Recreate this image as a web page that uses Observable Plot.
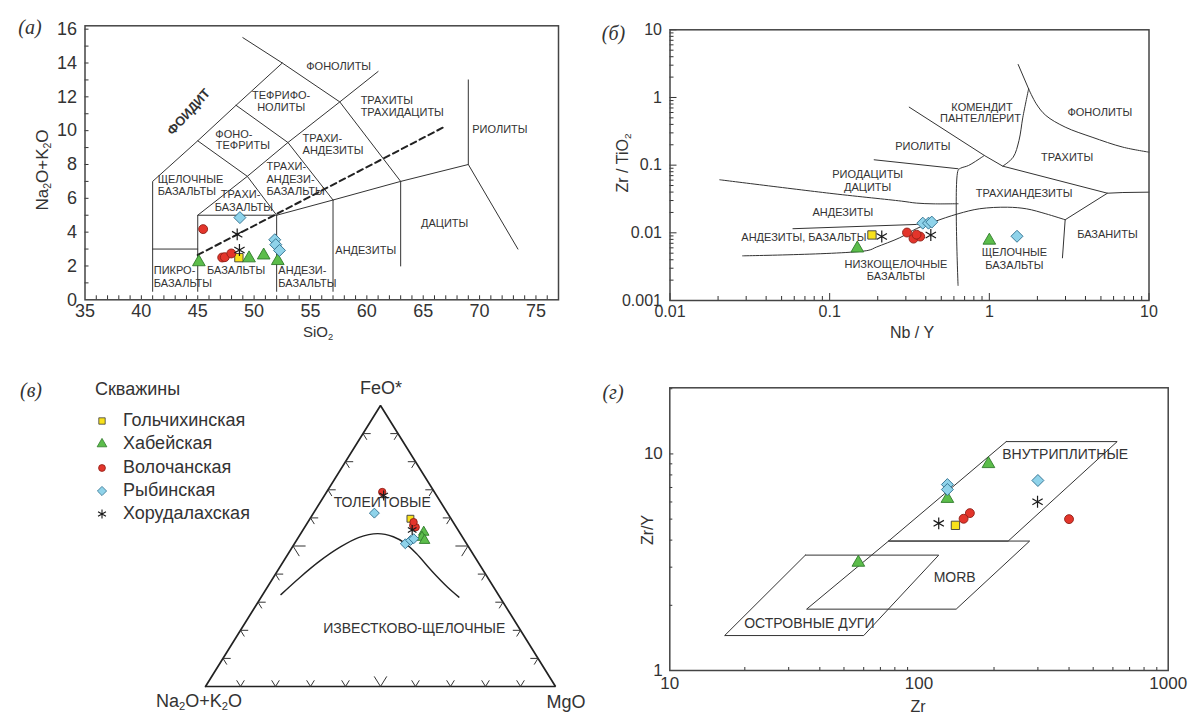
<!DOCTYPE html>
<html><head><meta charset="utf-8">
<script src="https://cdn.jsdelivr.net/npm/d3@7"></script>
<script src="https://cdn.jsdelivr.net/npm/@observablehq/plot@0.6"></script>
<style>
body{margin:0;background:#fff;font-family:"Liberation Sans",Arial,sans-serif;}
#root{position:relative;width:1200px;height:727px;overflow:hidden;background:#fff;}
.panel{position:absolute;}
.lbl{position:absolute;color:#333;white-space:nowrap;transform:translate(-50%,-50%);line-height:1;}
.lbl sub{font-size:0.62em;vertical-align:-0.25em;}
.rot{transform:translate(-50%,-50%) rotate(-90deg);}
.pl{position:absolute;font-family:"Liberation Serif","DejaVu Serif",serif;font-style:italic;font-size:20px;color:#333;transform:translate(-50%,-50%);line-height:1;}
.leg{position:absolute;color:#333;font-size:16px;white-space:nowrap;line-height:1;}
</style></head>
<body><div id="root"></div>
<script>
// ---------- series (wells) ----------
const wells   = ["Гольчихинская","Хабейская","Волочанская","Рыбинская","Хорудалахская"];
const symbols = ["square","triangle","circle","diamond2","asterisk"];
const fills   = ["#f8e11b","#5cbd4b","#e3352b","#8fd3ea","none"];
const strokes = ["#3b3b3b","#2f7a2a","#8e1f16","#2c6d8c","#1a1a1a"];
const sizeK   = [1.0,1.0,0.95,1.15,1.2];

// ---------- panel (а): TAS ----------
const aWell = ["Гольчихинская","Хабейская","Хабейская","Хабейская","Хабейская","Волочанская","Волочанская","Волочанская","Волочанская","Рыбинская","Рыбинская","Рыбинская","Рыбинская","Хорудалахская","Хорудалахская"];
const aSiO2 = [48.65,45.1,49.55,50.85,52.1,45.48,47.17,47.4,47.98,48.74,51.83,51.92,52.25,48.5,48.7];
const aAlk  = [2.49,2.23,2.46,2.63,2.3,4.18,2.5,2.52,2.74,4.86,3.55,3.26,2.92,3.87,2.94];
const tasLines = [
  [[41,0.5],[41,7],[45,9.4],[48.4,11.5],[52.5,14]],
  [[49,15.5],[52.5,14],[57.6,11.7],[63,7]],
  [[41,3],[45,3]],
  [[45,0.5],[45,5],[52,5],[57,5.9],[63,7],[69,8],[73.4,3]],
  [[52,0.5],[52,5]],
  [[57,0.5],[57,5.9]],
  [[63,2],[63,7]],
  [[69,8],[69,13]],
  [[45,5],[49.4,7.3],[53,9.3],[57.6,11.7],[61,13.5]],
  [[45,9.4],[49.4,7.3],[52,5]],
  [[48.4,11.5],[53,9.3],[57,5.9]]
];
const tasDash = [[45,2.65],[66.8,10.2]];
const aLabels = [
  {x:57.5,y:13.8,t:"ФОНОЛИТЫ",a:"middle"},
  {x:52.4,y:12.1,t:"ТЕФРИФО-",a:"middle"},{x:52.4,y:11.4,t:"НОЛИТЫ",a:"middle"},
  {x:59.45,y:11.8,t:"ТРАХИТЫ",a:"start"},{x:59.45,y:11.1,t:"ТРАХИДАЦИТЫ",a:"start"},
  {x:71.8,y:10.05,t:"РИОЛИТЫ",a:"middle"},
  {x:48.2,y:9.8,t:"ФОНО-",a:"middle"},{x:49.0,y:9.12,t:"ТЕФРИТЫ",a:"middle"},
  {x:54.3,y:9.55,t:"ТРАХИ-",a:"start"},{x:54.3,y:8.81,t:"АНДЕЗИТЫ",a:"start"},
  {x:51.1,y:7.86,t:"ТРАХИ-",a:"start"},{x:51.1,y:7.11,t:"АНДЕЗИ-",a:"start"},{x:51.1,y:6.39,t:"БАЗАЛЬТЫ",a:"start"},
  {x:41.45,y:7.11,t:"ЩЕЛОЧНЫЕ",a:"start"},{x:41.45,y:6.39,t:"БАЗАЛЬТЫ",a:"start"},
  {x:48.8,y:6.2,t:"ТРАХИ-",a:"middle"},{x:49.1,y:5.46,t:"БАЗАЛЬТЫ",a:"middle"},
  {x:41.1,y:1.72,t:"ПИКРО-",a:"start"},{x:41.1,y:0.97,t:"БАЗАЛЬТЫ",a:"start"},
  {x:48.4,y:1.72,t:"БАЗАЛЬТЫ",a:"middle"},
  {x:52.15,y:1.72,t:"АНДЕЗИ-",a:"start"},{x:52.15,y:0.97,t:"БАЗАЛЬТЫ",a:"start"},
  {x:59.9,y:2.92,t:"АНДЕЗИТЫ",a:"middle"},
  {x:66.9,y:4.52,t:"ДАЦИТЫ",a:"middle"}
];
const aXTicks = [35,40,45,50,55,60,65,70,75];
const aYTicks = [0,2,4,6,8,10,12,14,16];

// ---------- panel (б): Zr/TiO2 vs Nb/Y ----------
const bWell = ["Гольчихинская","Хабейская","Хабейская","Волочанская","Волочанская","Волочанская","Волочанская","Рыбинская","Рыбинская","Рыбинская","Рыбинская","Хорудалахская","Хорудалахская"];
const bNbY  = [0.184,0.149,1.0,0.305,0.335,0.369,0.35,0.383,0.416,0.436,1.49,0.212,0.43];
const bZrTi = [0.0093,0.0059,0.0077,0.0101,0.0082,0.0088,0.0094,0.0139,0.0139,0.0144,0.0089,0.00885,0.0093];
const bCurved = [
  [[0.0285,0.00457],[0.174,0.0055],[0.196,0.00615],[0.275,0.00847],[0.349,0.0115],[0.444,0.0144],[0.637,0.0191],[0.871,0.0227],[1.297,0.0239],[1.714,0.0226],[2.26,0.0191],[2.985,0.0156]],
  [[0.0205,0.0608],[0.105,0.0379],[0.282,0.0294],[0.349,0.0275],[0.45,0.0268],[0.637,0.0269]],
  [[0.637,0.00167],[0.637,0.0836],[0.66,0.09],[0.741,0.0989],[0.897,0.131],[0.931,0.139]],
  [[1.214,0.0966],[1.41,0.131],[1.534,0.232],[1.622,0.512],[1.762,1.34]],
  [[1.762,1.34],[1.968,0.805],[2.26,0.542],[2.985,0.365],[4.4,0.259],[6.86,0.1845],[10,0.1556]]
];
const bStraight = [
  [[0.0589,0.0115],[0.35,0.0133],[0.43,0.0142]],
  [[0.19,0.12],[0.637,0.0885]],
  [[0.315,0.719],[0.931,0.139],[1.214,0.0966],[5.49,0.0385],[6.86,0.0394],[10,0.0399]],
  [[1.516,3.07],[1.762,1.34]],
  [[2.87,0.00427],[2.985,0.0156],[5.49,0.0385]]
];
const bLabels = [
  {x:0.9,y:0.72,t:"КОМЕНДИТ",a:"middle"},{x:0.88,y:0.484,t:"ПАНТЕЛЛЕРИТ",a:"middle"},
  {x:4.92,y:0.607,t:"ФОНОЛИТЫ",a:"middle"},
  {x:0.383,y:0.191,t:"РИОЛИТЫ",a:"middle"},
  {x:3.07,y:0.128,t:"ТРАХИТЫ",a:"middle"},
  {x:0.173,y:0.0719,t:"РИОДАЦИТЫ",a:"middle"},{x:0.173,y:0.0473,t:"ДАЦИТЫ",a:"middle"},
  {x:1.65,y:0.0377,t:"ТРАХИАНДЕЗИТЫ",a:"middle"},
  {x:0.121,y:0.0198,t:"АНДЕЗИТЫ",a:"middle"},
  {x:0.17,y:0.0084,t:"АНДЕЗИТЫ, БАЗАЛЬТЫ",a:"end"},
  {x:0.26,y:0.0034,t:"НИЗКОЩЕЛОЧНЫЕ",a:"middle"},{x:0.26,y:0.00229,t:"БАЗАЛЬТЫ",a:"middle"},
  {x:1.436,y:0.00506,t:"ЩЕЛОЧНЫЕ",a:"middle"},{x:1.436,y:0.00329,t:"БАЗАЛЬТЫ",a:"middle"},
  {x:5.49,y:0.0093,t:"БАЗАНИТЫ",a:"middle"}
];
const bXTicks = [0.01,0.1,1,10];
const bYTicks = [0.001,0.01,0.1,1,10];
const minorMult = [2,3,4,5,6,7,8,9];

// ---------- panel (в): AFM ternary (FeO*, MgO in %) ----------
const cWell = ["Гольчихинская","Хабейская","Хабейская","Хабейская","Волочанская","Волочанская","Волочанская","Волочанская","Рыбинская","Рыбинская","Рыбинская","Рыбинская","Хорудалахская","Хорудалахская"];
const cFeO  = [59.7,54.9,53.1,52.0,69.2,57.3,56.7,58.5,61.7,50.8,52.0,52.6,68.0,55.7];
const cMgO  = [28.7,34.9,35.3,36.6,15.9,30.7,31.7,30.2,17.4,31.7,32.6,33.2,16.9,31.2];
const cCurveFeO = [32.7,38.9,44.6,49.4,53.0,54.4,53.3,51.0,47.3,41.1,35.4,31.8];
const cCurveMgO = [5.2,7.6,10.3,13.5,17.2,22.0,27.0,31.5,36.6,44.1,51.4,56.5];
const cTicks = [10,20,30,40,50,60,70,80,90];
const cLabels = [{f:65.6,m:17.7,t:"ТОЛЕИТОВЫЕ"},{f:20.7,m:49.3,t:"ИЗВЕСТКОВО-ЩЕЛОЧНЫЕ"}];

// ---------- panel (г): Zr/Y vs Zr ----------
const dWell = ["Гольчихинская","Хабейская","Хабейская","Хабейская","Волочанская","Волочанская","Волочанская","Рыбинская","Рыбинская","Рыбинская","Хорудалахская","Хорудалахская"];
const dZr   = [140,190,130,57.1,160,151,400,130,130,300,120,299];
const dZrY  = [4.68,8.99,6.21,3.15,5.33,5.02,5.0,7.22,6.85,7.54,4.78,6.02];
const withinPlate = [[224,11.4],[624,11.4],[228,3.96],[75.5,3.96],[224,11.4]];
const morb        = [[75.5,3.96],[278,3.96],[141,1.92],[35.4,1.92],[75.5,3.96]];
const islandArc   = [[35,3.41],[120,3.41],[60,1.45],[16.6,1.45],[35,3.41]];
const dLabels = [{x:386,y:9.93,t:"ВНУТРИПЛИТНЫЕ"},{x:139,y:2.69,t:"MORB"},{x:36.3,y:1.64,t:"ОСТРОВНЫЕ ДУГИ"}];
const dXTicks = [10,100,1000];
const dYTicks = [1,10];

// ---------- helpers ----------
const FONT = '"Liberation Sans", Arial, sans-serif';
const INK = "#333";
const root = document.getElementById("root");
function place(node, left, top){const d=document.createElement("div");d.className="panel";d.style.left=left+"px";d.style.top=top+"px";d.appendChild(node);root.appendChild(d);}
function html(cls, htmlText, x, y, size){const d=document.createElement("div");d.className=cls;d.innerHTML=htmlText;d.style.left=x+"px";d.style.top=y+"px";if(size)d.style.fontSize=size+"px";root.appendChild(d);}
function pts(ws, xs, ys){return ws.map((w,i)=>({w, x:xs[i], y:ys[i]}));}
function wellDots(data, r){
  return wells.map((s,k)=>Plot.dot(data.filter(d=>d.w===s),{x:"x",y:"y",symbol:symbols[k],fill:fills[k],stroke:strokes[k],strokeWidth:k===4?1.2:0.9,r:r*sizeK[k]}));
}
function polylines(lines){return lines.flatMap((l,i)=>l.map(p=>({x:p[0],y:p[1],id:i})));}
function minors(decades){return decades.flatMap(d=>minorMult.map(m=>+(m*d).toPrecision(3)));}
const textOpts = (size)=>({x:"x",y:"y",text:"t",fill:INK,fontSize:size,fontFamily:FONT});

// ---------- panel (а) ----------
{
  const W=600,H=345,mL=84.5,mR=42,mT=25.3,mB=45.7, fw=W-mL-mR, fh=H-mT-mB;
  const xMinor=d3.range(36,77,1), yMinor=d3.range(1,17,1);
  const p = Plot.plot({
    width:W,height:H,marginLeft:mL,marginRight:mR,marginTop:mT,marginBottom:mB,
    style:{fontFamily:FONT,color:INK,background:"transparent",overflow:"visible"},
    x:{domain:[35,77]}, y:{domain:[0,16.2]},
    marks:[
      Plot.line(polylines(tasLines),{x:"x",y:"y",z:"id",stroke:"#333",strokeWidth:1}),
      Plot.line(tasDash.map(p=>({x:p[0],y:p[1]})),{x:"x",y:"y",stroke:"#222",strokeWidth:2,strokeDasharray:"6,4"}),
      Plot.text(aLabels.filter(d=>d.a==="middle"),{...textOpts(11),textAnchor:"middle"}),
      Plot.text(aLabels.filter(d=>d.a==="start"),{...textOpts(11),textAnchor:"start"}),
      Plot.text([{x:44.2,y:11.1,t:"ФОИДИТ"}],{...textOpts(13),fontWeight:"bold",rotate:-48}),
      Plot.tickX(xMinor,{x:d=>d,stroke:"#333",insetTop:fh-4}),
      Plot.tickY(yMinor,{y:d=>d,stroke:"#333",insetRight:fw-4}),
      Plot.frame({stroke:"#444",strokeWidth:1.5}),
      Plot.axisX({ticks:aXTicks,tickSize:0,tickPadding:4,label:null,fontSize:18}),
      Plot.axisY({ticks:aYTicks,tickSize:0,tickPadding:8,label:null,fontSize:18}),
      ...wellDots(pts(aWell,aSiO2,aAlk),4.7)
    ]
  });
  place(p,0,0);
  html("pl","(<i>а</i>)",30,27);
  html("lbl","SiO<sub>2</sub>",318,333,15);
  html("lbl rot","Na<sub>2</sub>O+K<sub>2</sub>O",43,170,17);
}

// ---------- panel (б) ----------
{
  const W=600,H=345,mL=69.5,mR=51.5,mT=29.3,mB=45, fw=W-mL-mR, fh=H-mT-mB;
  const p = Plot.plot({
    width:W,height:H,marginLeft:mL,marginRight:mR,marginTop:mT,marginBottom:mB,
    style:{fontFamily:FONT,color:INK,background:"transparent",overflow:"visible"},
    x:{type:"log",domain:[0.01,10]}, y:{type:"log",domain:[0.001,10]},
    marks:[
      Plot.line(polylines(bCurved),{x:"x",y:"y",z:"id",curve:"catmull-rom",stroke:"#333",strokeWidth:1}),
      Plot.line(polylines(bStraight),{x:"x",y:"y",z:"id",stroke:"#333",strokeWidth:1}),
      Plot.text(bLabels.filter(d=>d.a==="middle"),{...textOpts(11),textAnchor:"middle"}),
      Plot.text(bLabels.filter(d=>d.a==="end"),{...textOpts(11),textAnchor:"end"}),
      Plot.tickX(minors([0.01,0.1,1]),{x:d=>d,stroke:"#333",insetTop:fh-4}),
      Plot.tickX(bXTicks,{x:d=>d,stroke:"#333",insetTop:fh-7}),
      Plot.tickY(minors([0.001,0.01,0.1,1]),{y:d=>d,stroke:"#333",insetRight:fw-4}),
      Plot.tickY(bYTicks,{y:d=>d,stroke:"#333",insetRight:fw-7}),
      Plot.frame({stroke:"#444",strokeWidth:1.5}),
      Plot.axisX({ticks:bXTicks,tickSize:0,tickPadding:5,label:null,fontSize:16,tickFormat:d=>String(d)}),
      Plot.axisY({ticks:bYTicks,tickSize:0,tickPadding:8,label:null,fontSize:16,tickFormat:d=>String(d)}),
      ...wellDots(pts(bWell,bNbY,bZrTi),4.7)
    ]
  });
  place(p,600,0);
  html("pl","(<i>б</i>)",613.5,33);
  html("lbl rot","Zr / TiO<sub>2</sub>",624,163,16);
  html("lbl","Nb / Y",912,333,16);
}

// ---------- panel (в) ----------
{
  const W=600,H=367;
  const tern = (f,m)=>({x:m/100+f/200, y:f/100});
  const tri = [tern(0,0),tern(0,100),tern(100,0),tern(0,0)];
  const arms = [];
  cTicks.forEach(t=>{
    const d = t===50?3.6:2.2;
    arms.push([tern(0,t),tern(d,t)],[tern(0,t),tern(d,t-d)]);
    arms.push([tern(t,0),tern(t,d)],[tern(t,0),tern(t-d,d)]);
    arms.push([tern(t,100-t),tern(t,100-t-d)],[tern(t,100-t),tern(t-d,100-t)]);
  });
  const armData = arms.map(([p,q])=>({x1:p.x,y1:p.y,x2:q.x,y2:q.y}));
  const curve = cCurveFeO.map((f,i)=>tern(f,cCurveMgO[i]));
  const cpts = cWell.map((w,i)=>({w,...tern(cFeO[i],cMgO[i])}));
  const lbls = cLabels.map(l=>({...tern(l.f,l.m),t:l.t}));
  const p = Plot.plot({
    width:W,height:H,marginLeft:205,marginRight:45,marginTop:45,marginBottom:41,
    style:{fontFamily:FONT,color:INK,background:"transparent",overflow:"visible"},
    x:{domain:[0,1],axis:null}, y:{domain:[0,1],axis:null},
    marks:[
      Plot.line(tri,{x:"x",y:"y",stroke:"#222",strokeWidth:1.7,strokeLinejoin:"miter"}),
      Plot.link(armData,{x1:"x1",y1:"y1",x2:"x2",y2:"y2",stroke:"#333",strokeWidth:1}),
      Plot.line(curve,{x:"x",y:"y",curve:"catmull-rom",stroke:"#222",strokeWidth:1.4}),
      Plot.text(lbls,{x:"x",y:"y",text:"t",fill:INK,fontSize:14,fontFamily:FONT}),
      ...wellDots(cpts,3.9)
    ]
  });
  place(p,0,360);
  html("pl","(<i>в</i>)",31,390);
  html("lbl","FeO*",381,388,18);
  html("lbl","Na<sub>2</sub>O+K<sub>2</sub>O",199,702,18);
  html("lbl","MgO",566,702,18);
  // legend
  const legX=102, legText=123, legY=[421,444,467.7,491,514.3];
  html("leg","Скважины",95,380,18);
  wells.forEach((w,k)=>{
    const s = d3.create("svg").attr("width",14).attr("height",14).style("position","absolute").style("left",(legX-7)+"px").style("top",(legY[k]-7)+"px").style("overflow","visible");
    const sym = {square:d3.symbolSquare,triangle:d3.symbolTriangle,circle:d3.symbolCircle,diamond2:d3.symbolDiamond2,asterisk:d3.symbolAsterisk}[symbols[k]];
    const rr = 3.6*sizeK[k];
    s.append("path").attr("transform","translate(7,7)").attr("d",d3.symbol(sym, Math.PI*rr*rr)())
      .attr("fill",fills[k]).attr("stroke",strokes[k]).attr("stroke-width",k===4?1.1:0.8);
    root.appendChild(s.node());
    html("leg",w,legText,legY[k]-10,18);
  });
}

// ---------- panel (г) ----------
{
  const W=600,H=367,mL=69.3,mR=32.3,mT=27.3,mB=57, fw=W-mL-mR, fh=H-mT-mB;
  const polys = [withinPlate,morb,islandArc];
  const p = Plot.plot({
    width:W,height:H,marginLeft:mL,marginRight:mR,marginTop:mT,marginBottom:mB,
    style:{fontFamily:FONT,color:INK,background:"transparent",overflow:"visible"},
    x:{type:"log",domain:[10,1000]}, y:{type:"log",domain:[1,20.2]},
    marks:[
      Plot.line(polylines(polys),{x:"x",y:"y",z:"id",stroke:"#333",strokeWidth:1}),
      Plot.text(dLabels,{...textOpts(14)}),
      Plot.tickX(minors([10,100]),{x:d=>d,stroke:"#333",insetTop:fh-3}),
      Plot.tickY(minors([1,10]).filter(v=>v<=20),{y:d=>d,stroke:"#333",insetRight:fw-3}),
      Plot.tickY([10],{y:d=>d,stroke:"#333",insetRight:fw-4}),
      Plot.frame({stroke:"#444",strokeWidth:1.5}),
      Plot.axisX({ticks:dXTicks,tickSize:0,tickPadding:6,label:null,fontSize:17,tickFormat:d=>String(d)}),
      Plot.axisY({ticks:dYTicks,tickSize:0,tickPadding:7,label:null,fontSize:17,tickFormat:d=>String(d)}),
      ...wellDots(pts(dWell,dZr,dZrY),4.7)
    ]
  });
  place(p,600,360);
  html("pl","(<i>г</i>)",613,392);
  html("lbl rot","Zr/Y",648,530,16);
  html("lbl","Zr",918,707,16);
}
</script>
</body></html>
